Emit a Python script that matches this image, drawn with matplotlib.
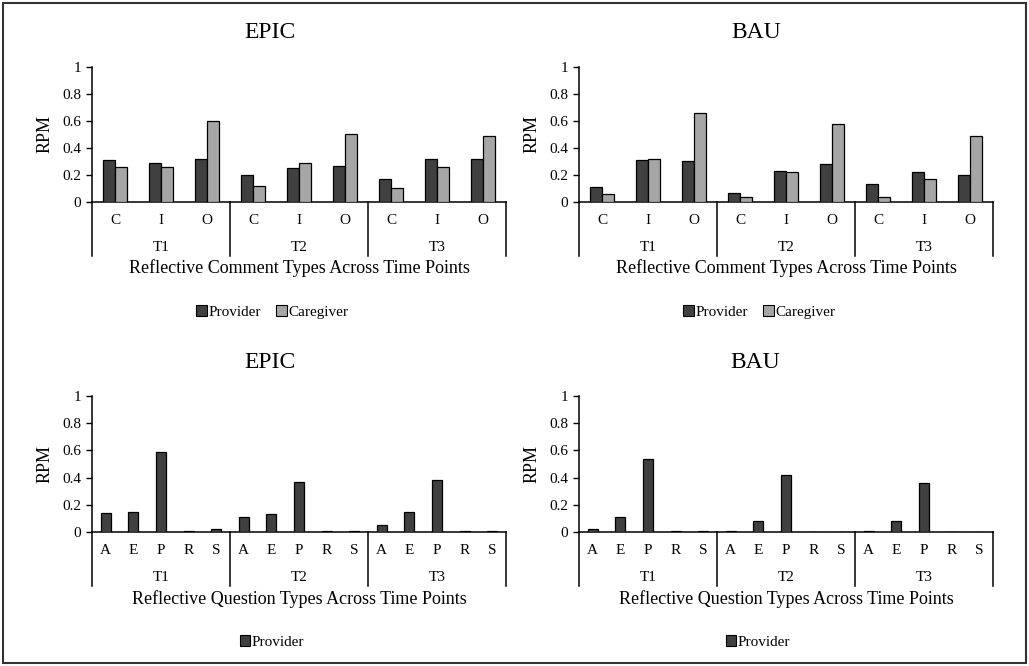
import matplotlib.pyplot as plt
import numpy as np
from matplotlib.patches import Rectangle

plt.rcParams['font.family'] = ['Liberation Serif', 'DejaVu Serif']

time_points = ['T1', 'T2', 'T3']
comment_types = ['C', 'I', 'O']
question_types = ['A', 'E', 'P', 'R', 'S']

# reflective comments (T1 C,I,O | T2 C,I,O | T3 C,I,O)
epic_comment_provider = [0.31, 0.29, 0.32, 0.20, 0.25, 0.27, 0.17, 0.32, 0.32]
epic_comment_caregiver = [0.26, 0.26, 0.60, 0.12, 0.29, 0.50, 0.10, 0.26, 0.49]
bau_comment_provider = [0.11, 0.31, 0.30, 0.07, 0.23, 0.28, 0.13, 0.22, 0.20]
bau_comment_caregiver = [0.06, 0.32, 0.66, 0.04, 0.22, 0.58, 0.04, 0.17, 0.49]

# reflective questions (T1 A,E,P,R,S | T2 ... | T3 ...)
epic_question_provider = [0.14, 0.15, 0.59, 0.005, 0.02,
                          0.11, 0.13, 0.37, 0.005, 0.005,
                          0.05, 0.15, 0.38, 0.005, 0.005]
bau_question_provider = [0.02, 0.11, 0.54, 0.005, 0.005,
                         0.005, 0.08, 0.42, 0.0, 0.0,
                         0.005, 0.08, 0.36, 0.0, 0.0]

DARK = '#404040'
LIGHT = '#a6a6a6'

fig = plt.figure(figsize=(10.29, 6.66), dpi=100)
fig.patches.append(Rectangle((0.003, 0.004), 0.994, 0.991, transform=fig.transFigure,
                             fill=False, edgecolor='#333333', linewidth=1.5))


def draw_panel(ax, series, colors, cats, width, xlabel):
    ncat = len(cats)
    n = ncat * len(time_points)
    x = np.arange(n)
    nser = len(series)
    for i, (vals, col) in enumerate(zip(series, colors)):
        off = (i - (nser - 1) / 2) * width
        ax.bar(x + off, vals, width, color=col, edgecolor='black', linewidth=0.9, zorder=3)
    ax.set_xlim(-0.5, n - 0.5)
    ax.set_ylim(0, 1)
    ax.set_yticks([0, 0.2, 0.4, 0.6, 0.8, 1])
    ax.set_yticklabels(['0', '0.2', '0.4', '0.6', '0.8', '1'], fontsize=11)
    ax.tick_params(axis='y', direction='out', length=4, width=1, pad=4)
    ax.set_xticks([])
    for s in ['top', 'right']:
        ax.spines[s].set_visible(False)
    ax.spines['left'].set_linewidth(1.1)
    ax.spines['bottom'].set_linewidth(1.1)
    ax.set_ylabel('RPM', fontsize=13, labelpad=6)
    tr = ax.get_xaxis_transform()
    for k in range(len(time_points) + 1):
        xs = k * ncat - 0.5
        ax.plot([xs, xs], [0, -0.4], transform=tr, color='black', lw=1.1, clip_on=False)
    for j in range(n):
        ax.text(j, -0.135, cats[j % ncat], transform=tr, ha='center', va='center', fontsize=11)
    for k, t in enumerate(time_points):
        ax.text(k * ncat + (ncat - 1) / 2, -0.335, t, transform=tr,
                ha='center', va='center', fontsize=11)
    ax.text(0.5, -0.49, xlabel, transform=ax.transAxes, ha='center', va='center', fontsize=13)


lefts = [92 / 1029, 579 / 1029]
w = 414 / 1029
ax_tl = fig.add_axes([lefts[0], 1 - 202 / 666, w, 135 / 666])
ax_tr = fig.add_axes([lefts[1], 1 - 202 / 666, w, 135 / 666])
ax_bl = fig.add_axes([lefts[0], 1 - 532 / 666, w, 136 / 666])
ax_br = fig.add_axes([lefts[1], 1 - 532 / 666, w, 136 / 666])

draw_panel(ax_tl, [epic_comment_provider, epic_comment_caregiver], [DARK, LIGHT],
           comment_types, 0.26, 'Reflective Comment Types Across Time Points')
draw_panel(ax_tr, [bau_comment_provider, bau_comment_caregiver], [DARK, LIGHT],
           comment_types, 0.26, 'Reflective Comment Types Across Time Points')
draw_panel(ax_bl, [epic_question_provider], [DARK],
           question_types, 0.36, 'Reflective Question Types Across Time Points')
draw_panel(ax_br, [bau_question_provider], [DARK],
           question_types, 0.36, 'Reflective Question Types Across Time Points')

# titles
for xc, yc, t in [(270, 32, 'EPIC'), (756, 32, 'BAU'), (270, 362, 'EPIC'), (755, 362, 'BAU')]:
    fig.text(xc / 1029, 1 - yc / 666, t, ha='center', va='center', fontsize=17)

# legends
for xc, yc, labels, cols in [(272, 312, ['Provider', 'Caregiver'], [DARK, LIGHT]),
                             (759, 312, ['Provider', 'Caregiver'], [DARK, LIGHT]),
                             (272, 642, ['Provider'], [DARK]),
                             (758, 642, ['Provider'], [DARK])]:
    handles = [Rectangle((0, 0), 1, 1, facecolor=c, edgecolor='black', linewidth=0.8) for c in cols]
    fig.legend(handles, labels, loc='center', bbox_to_anchor=(xc / 1029, 1 - yc / 666),
               ncol=len(labels), frameon=False, fontsize=11, handlelength=0.7,
               handleheight=0.7, handletextpad=0.1, columnspacing=1.0)

fig.savefig('out.png', dpi=100)
